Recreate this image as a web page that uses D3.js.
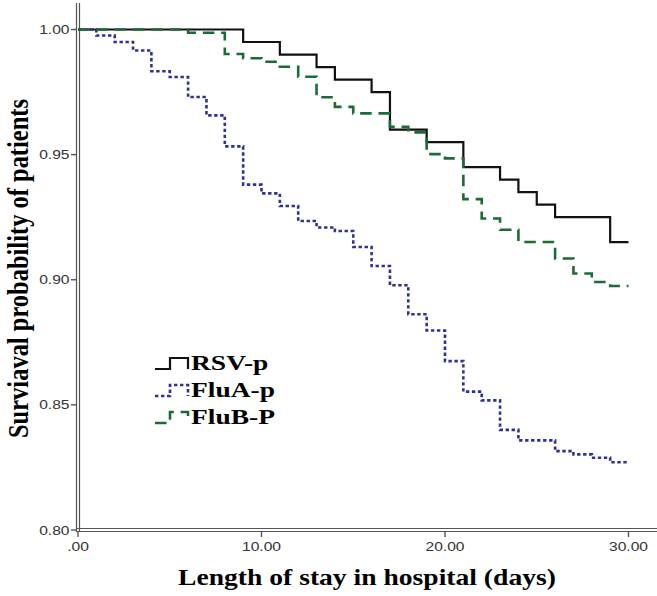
<!DOCTYPE html>
<html>
<head>
<meta charset="utf-8">
<script src="https://cdn.jsdelivr.net/npm/d3@7"></script>
<style>
  html, body { margin: 0; padding: 0; background: #fff; }
  svg { display: block; }
</style>
</head>
<body>
<svg id="chart" width="657" height="596"></svg>
<script>
// ---------------- data ----------------
const seriesNames = ["RSV-p", "FluA-p", "FluB-P"];

const rsvDays = [0, 9, 11, 13, 14, 16, 17, 19, 21, 23, 24, 25, 26, 29, 30];
const rsvSurv = [1, 0.995, 0.990, 0.985, 0.980, 0.975, 0.960, 0.955, 0.945, 0.940, 0.935, 0.930, 0.925, 0.915, 0.915];

const fluADays = [0, 1, 2, 3, 4, 5, 6, 7, 8, 9, 10, 11, 12, 13, 14, 15, 16, 17, 18, 19, 20, 21, 22, 23, 24, 26, 27, 28, 29, 30];
const fluASurv = [1, 0.9976, 0.995, 0.9916, 0.9833, 0.981, 0.973, 0.9657, 0.9533, 0.938, 0.9345, 0.9295, 0.9235, 0.9209, 0.9195,
                  0.9131, 0.9055, 0.8978, 0.8862, 0.8797, 0.8675, 0.8553, 0.8518, 0.840, 0.8358, 0.8315, 0.8302, 0.8289, 0.8271, 0.8271];

const fluBDays = [0, 6, 8, 9, 10, 11, 12, 13, 14, 15, 17, 18, 19, 20, 21, 22, 23, 24, 26, 27, 28, 29, 30];
const fluBSurv = [1, 0.9987, 0.9902, 0.9885, 0.9871, 0.9851, 0.9811, 0.9729, 0.9691, 0.9665, 0.9611, 0.9589, 0.9502, 0.9485,
                  0.9322, 0.9245, 0.920, 0.9151, 0.9085, 0.9025, 0.8991, 0.8975, 0.8975];

const xTickValues = [0, 10, 20, 30];
const xTickLabels = [".00", "10.00", "20.00", "30.00"];
const yTickValues = [0.80, 0.85, 0.90, 0.95, 1.00];
const yTickLabels = ["0.80", "0.85", "0.90", "0.95", "1.00"];

const xTitle = "Length of stay in hospital (days)";
const yTitle = "Surviaval probability of patients";

// ---------------- styles ----------------
const styles = [
  { color: "#111111", width: 2.2, dash: null },
  { color: "#2e3192", width: 2.6, dash: "3.4,2.6" },
  { color: "#1c6b36", width: 2.6, dash: "11.5,6.8" }
];
const series = [
  { name: seriesNames[0], days: rsvDays, surv: rsvSurv, style: styles[0] },
  { name: seriesNames[1], days: fluADays, surv: fluASurv, style: styles[1] },
  { name: seriesNames[2], days: fluBDays, surv: fluBSurv, style: styles[2] }
];

const svg = d3.select("#chart");
const STRETCH = 1.2;
const serif = "'Liberation Serif', 'Times New Roman', serif";
const sans = "'Liberation Sans', Arial, sans-serif";

const x = d3.scaleLinear().domain([0, 30]).range([78, 628.5]);
const y = d3.scaleLinear().domain([0.80, 1.00]).range([530, 29.5]);

// ---------------- axes (double lines) ----------------
const axisColor = "#555";
const axes = svg.append("g");
// y axis
[76.5, 79.5].forEach(px => axes.append("line")
  .attr("x1", px).attr("x2", px).attr("y1", 3).attr("y2", 532)
  .attr("stroke", axisColor).attr("stroke-width", 1.2));
// x axis
[528.5, 531.5].forEach(py => axes.append("line")
  .attr("x1", 76).attr("x2", 657).attr("y1", py).attr("y2", py)
  .attr("stroke", axisColor).attr("stroke-width", 1.2));

// y ticks
yTickValues.forEach((v, i) => {
  const py = y(v);
  axes.append("line").attr("x1", 71).attr("x2", 76.5).attr("y1", py).attr("y2", py)
    .attr("stroke", axisColor).attr("stroke-width", 1.4);
  axes.append("text")
    .attr("transform", `translate(69.5,${py + 4.6}) scale(${STRETCH},1)`)
    .attr("text-anchor", "end")
    .attr("font-family", sans).attr("font-size", 13).attr("fill", "#333")
    .text(yTickLabels[i]);
});
// x ticks
xTickValues.forEach((v, i) => {
  const px = x(v);
  axes.append("line").attr("x1", px).attr("x2", px).attr("y1", 531.5).attr("y2", 537)
    .attr("stroke", axisColor).attr("stroke-width", 1.4);
  axes.append("text")
    .attr("transform", `translate(${px},${551}) scale(${STRETCH},1)`)
    .attr("text-anchor", "middle")
    .attr("font-family", sans).attr("font-size", 13).attr("fill", "#333")
    .text(xTickLabels[i]);
});

// ---------------- curves ----------------
const line = d3.line()
  .x(d => x(d[0]))
  .y(d => y(d[1]))
  .curve(d3.curveStepAfter);

const curves = svg.append("g");
series.forEach(s => {
  const pts = s.days.map((d, i) => [d, s.surv[i]]);
  curves.append("path")
    .attr("d", line(pts))
    .attr("fill", "none")
    .attr("stroke", s.style.color)
    .attr("stroke-width", s.style.width)
    .attr("stroke-dasharray", s.style.dash)
    .attr("stroke-linejoin", "miter");
});

// ---------------- legend ----------------
const legend = svg.append("g");
series.forEach((s, i) => {
  const base = 370 + i * 27;
  const bottom = base - 1, top = base - 12;
  legend.append("path")
    .attr("d", `M155,${bottom} L170,${bottom} L170,${top} L188,${top} L188,${bottom}`)
    .attr("fill", "none")
    .attr("stroke", s.style.color)
    .attr("stroke-width", s.style.width)
    .attr("stroke-dasharray", s.style.dash);
  legend.append("text")
    .attr("transform", `translate(191,${base}) scale(1.25,1)`)
    .attr("font-family", serif).attr("font-weight", "bold").attr("font-size", 22)
    .attr("fill", "#000")
    .text(s.name);
});

// ---------------- titles ----------------
svg.append("text")
  .attr("transform", `translate(367,585) scale(${STRETCH},1)`)
  .attr("text-anchor", "middle")
  .attr("font-family", serif).attr("font-weight", "bold").attr("font-size", 23)
  .attr("fill", "#000")
  .text(xTitle);

svg.append("text")
  .attr("transform", `translate(28,268.5) scale(${STRETCH},1) rotate(-90)`)
  .attr("text-anchor", "middle")
  .attr("font-family", serif).attr("font-weight", "bold").attr("font-size", 24.5)
  .attr("fill", "#000")
  .text(yTitle);
</script>
</body>
</html>
